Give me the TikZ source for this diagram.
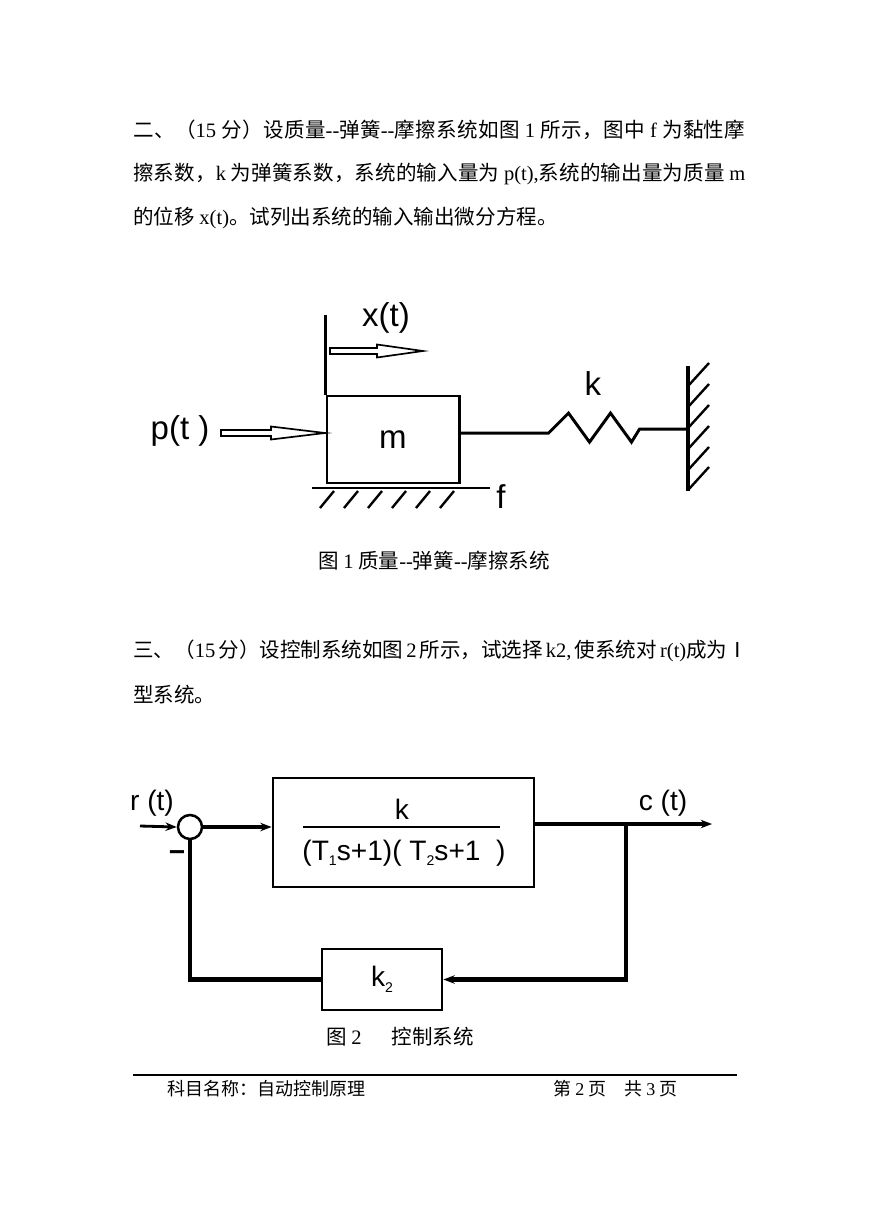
\documentclass[tikz,border=0pt]{standalone}
\usepackage{fontspec}
\setmainfont{Noto Sans CJK SC}
\setsansfont{Liberation Sans}
\newfontfamily\tm{Liberation Serif}
\usetikzlibrary{arrows.meta,calc,positioning}
\XeTeXinterchartokenstate=1
\newXeTeXintercharclass\cjkcls
\newcount\cjkc
\cjkc="4E00 \loop\XeTeXcharclass\cjkc=\cjkcls\advance\cjkc by 1 \ifnum\cjkc<"A000 \repeat
\cjkc="3000 \loop\XeTeXcharclass\cjkc=\cjkcls\advance\cjkc by 1 \ifnum\cjkc<"3040 \repeat
\cjkc="FF00 \loop\XeTeXcharclass\cjkc=\cjkcls\advance\cjkc by 1 \ifnum\cjkc<"FFF0 \repeat
\XeTeXinterchartoks\cjkcls\cjkcls={\hskip0pt plus 1pt\relax}
\newcommand{\la}[1]{{\tm #1}}
\newcommand{\fullline}[1]{\makebox[15.3cm][s]{#1}}
\newcommand{\sub}[1]{\raisebox{-0.2em}{\fontsize{10pt}{10pt}\selectfont #1}}
\newcommand{\hollowarrow}[3]{\draw[line width=1.2pt, line join=miter] ($(#1)+(0,-3)$) -- ($(#2)+(-#3,-3)$) -- ($(#2)+(-#3,-6.5)$) -- (#2) -- ($(#2)+(-#3,6.5)$) -- ($(#2)+(-#3,3)$) -- ($(#1)+(0,3)$) -- cycle;}

\begin{document}
\begin{tikzpicture}[x=0.025cm, y=-0.025cm,
  zh/.style={anchor=west, inner sep=0pt, font=\fontsize{14.6pt}{17pt}\selectfont},
  mlabel/.style={inner sep=0pt, font=\sffamily\fontsize{23.5pt}{26pt}\selectfont},
  blabel/.style={inner sep=0pt, font=\sffamily\fontsize{20pt}{24pt}\selectfont},
  mline/.style={line width=2.1pt},
  hatch/.style={line width=1.7pt},
  block/.style={draw, line width=2pt, inner sep=0pt},
  sig/.style={line width=2.8pt, -{Stealth[length=8pt,width=6pt]}},
  fb/.style={line width=3pt}]

\useasboundingbox (0,0) rectangle (869,1228);
\fill[white] (0,0) rectangle (869,1228);

\node (q2a) at (133,130) [zh] {\fullline{二、（\la{15} 分）设质量\la{-{}-}弹簧\la{-{}-}摩擦系统如图 \la{1} 所示，图中 \la{f} 为黏性摩}};
\node (q2b) at (133,174) [zh] {\fullline{擦系数，\la{k} 为弹簧系数，系统的输入量为 \la{p(t),}系统的输出量为质量 \la{m}}};
\node (q2c) at (133,218) [zh] {的位移 \la{x(t)}。试列出系统的输入输出微分方程。};

\node (mass) at (393,439.5) [draw, mline, minimum width=3.3cm, minimum height=2.175cm, mlabel] {m};
\coordinate (xtop) at (327,315);
\draw[mline] (mass.north west) -- (mass.north west |- xtop);
\node (xt) at (386,318) [mlabel] {x(t)};
\coordinate (xa) at (330,351);
\coordinate (xb) at (423,351);
\hollowarrow{xa}{xb}{46}
\node (pt) at (180,431) [mlabel] {p(t )};
\coordinate (pa) at (221,433);
\coordinate (pb) at (325,433);
\hollowarrow{pa}{pb}{54}

\coordinate (g1) at (312,488);
\coordinate (g2) at (490,488);
\draw[mline] (g1) -- (g2);
\foreach \x in {334,358,382,406,430,454} \draw[hatch] (\x,491) -- (\x-14,508);
\node (f) at (501,497) [mlabel] {f};

\draw[mline, line join=miter] ([yshift=0.16cm]mass.east) -- ++(88,0) -- ++(20,-20) -- ++(21,29) -- ++(21,-29) -- ++(21,29) -- ++(8,-13) -- ++(50,0);
\node (k) at (593,384) [mlabel] {k};
\coordinate (wall1) at (688,366);
\coordinate (wall2) at (688,491);
\draw[line width=2.4pt] (wall1) -- (wall2);
\foreach \y in {385,406,427,448,469,489} \draw[hatch] (689,\y) -- (709,\y-22);

\node (cap1) at (434,561) [inner sep=0pt, font=\fontsize{14.6pt}{17pt}\selectfont] {图 \la{1} 质量\la{-{}-}弹簧\la{-{}-}摩擦系统};

\node (q3a) at (133,651) [zh] {\fullline{三、（\la{15} 分）设控制系统如图 \la{2} 所示，试选择 \la{k2,} 使系统对 \la{r(t)}成为Ⅰ}};
\node (q3b) at (133,695) [zh] {型系统。};

\node (sum) at (190,827) [circle, draw, line width=1.8pt, minimum size=0.6cm, inner sep=0pt] {};
\node (rt) at (152,803) [blabel] {r (t)};
\coordinate (rin) at (140,826);
\draw[sig, line width=2pt] (rin) -- (sum.west);
\node (minus) at (177,856) [blabel] {\textbf{−}};

\node (plant) at (403.5,832.5) [block, minimum width=6.525cm, minimum height=2.725cm] {};
\node (num) at (402,809) [blabel] {k};
\draw[line width=2pt] (303,827) -- (500,827);
\node (den) at (404,853) [blabel] {(T\sub{1}s+1)(\ T\sub{2}s+1\ \ )};
\draw[sig] (sum.east) -- (sum.east -| plant.west);

\coordinate (cout) at (712,824);
\node (ct) at (663,803) [blabel] {c (t)};
\draw[sig] (plant.east |- cout) -- (cout);
\coordinate (br) at (626,824);
\node (k2) at (382,979.5) [block, minimum width=3cm, minimum height=1.525cm, blabel] {k\sub{2}};
\draw[sig, line width=3pt] (br) |- (k2.east);
\draw[fb] (k2.west) -| (sum.south);

\node (cap2) at (400,1037) [inner sep=0pt, font=\fontsize{14.6pt}{17pt}\selectfont] {图 \la{2}\hspace{0.75cm}控制系统};

\draw[line width=0.9pt] (133,1075) -- (737,1075);
\node (foot1) at (167,1089) [zh, font=\fontsize{12.8pt}{14pt}\selectfont] {科目名称：自动控制原理};
\node (foot2) at (553,1089) [zh, font=\fontsize{12.8pt}{14pt}\selectfont] {第 \la{2} 页　共 \la{3} 页};

\end{tikzpicture}
\end{document}
